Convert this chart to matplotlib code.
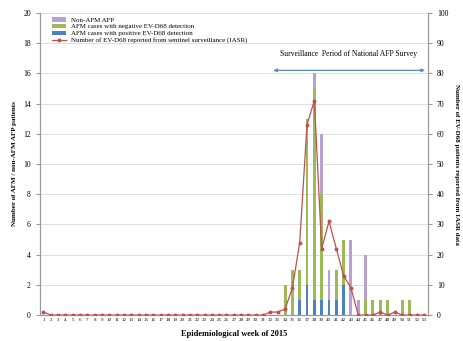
import numpy as np
import matplotlib.pyplot as plt

plt.rcParams['font.family'] = ['Liberation Serif', 'DejaVu Serif']

weeks = list(range(1, 54))

# stacked bars, by week (weeks not listed are zero)
bar_weeks = [34, 35, 36, 37, 38, 39, 40, 41, 42, 43, 44, 45, 46, 47, 48, 50, 51]
positive = [0, 0, 1, 2, 1, 1, 1, 1, 2, 0, 0, 0, 0, 0, 0, 0, 0]
negative = [2, 3, 2, 11, 14, 7, 0, 2, 3, 0, 0, 1, 1, 1, 1, 1, 1]
non_afm = [0, 0, 0, 0, 1, 4, 2, 0, 0, 5, 1, 3, 0, 0, 0, 0, 0]

# EV-D68 reports from sentinel surveillance (right axis)
iasr = [1] + [0] * 30 + [1, 1, 2, 9, 24, 63, 71, 22, 31, 22, 13, 9,
                          0, 0, 0, 1, 0, 1, 0, 0, 0, 0]

c_pos = '#4f81bd'
c_neg = '#9bbb59'
c_non = '#b7a1d3'
c_line = '#c0504d'

fig = plt.figure(figsize=(4.63, 3.41), dpi=100)
ax = fig.add_axes([0.086, 0.076, 0.838, 0.886])

pos = np.array(positive)
neg = np.array(negative)
non = np.array(non_afm)
w = 0.4
ax.bar(bar_weeks, non, w, bottom=pos + neg, color=c_non, label='Non-AFM AFP', zorder=2)
ax.bar(bar_weeks, neg, w, bottom=pos, color=c_neg,
       label='AFM cases with negative EV-D68 detection', zorder=2)
ax.bar(bar_weeks, pos, w, color=c_pos,
       label='AFM cases with positive EV-D68 detection', zorder=2)

ax.set_xlim(0.5, 53.5)
ax.set_ylim(0, 20)
ax.set_yticks(range(0, 21, 2))
ax.set_xticks(weeks)
ax.set_xticklabels([str(x) for x in weeks], fontsize=3.6)
ax.tick_params(axis='y', labelsize=5.5, length=3, color='#999999')
ax.tick_params(axis='x', length=0, pad=2)
ax.grid(axis='y', color='#d9d9d9', linewidth=0.6, zorder=0)
ax.set_axisbelow(True)
for s in ax.spines.values():
    s.set_color('#999999')
ax.spines['top'].set_visible(False)
ax.set_ylabel('Number of AFM / non-AFM AFP patients', fontsize=5, fontweight='bold')
ax.set_xlabel('Epidemiological week of 2015', fontsize=6, fontweight='bold', labelpad=6)

ax2 = ax.twinx()
ax2.set_ylim(0, 100)
ax2.set_yticks(range(0, 101, 10))
ax2.plot(weeks, iasr, color=c_line, marker='o', markersize=1.8, linewidth=0.9,
         label='Number of EV-D68 reported from sentinel surveillance (IASR)', zorder=3)
ax2.tick_params(axis='y', labelsize=5.5, length=3, color='#999999')
for s in ax2.spines.values():
    s.set_color('#999999')
ax2.spines['top'].set_visible(False)
ax2.set_ylabel('Number of EV-D68 patients reported from IASR data', fontsize=5,
               fontweight='bold', rotation=-90, labelpad=8)

ax2.annotate('', xy=(53.5, 81), xytext=(32, 81),
             arrowprops=dict(arrowstyle='<|-|>', color='#5b8ec4', lw=0.9,
                             mutation_scale=5))
ax2.text(42.7, 85, 'Surveillance  Period of National AFP Survey', fontsize=5.5,
         ha='center', va='bottom')

h1, l1 = ax.get_legend_handles_labels()
h2, l2 = ax2.get_legend_handles_labels()
ax2.legend(h1 + h2, l1 + l2, loc='upper left', bbox_to_anchor=(0.02, 1.0),
           frameon=False, fontsize=5, handlelength=2.0, handleheight=0.6,
           labelspacing=0.15, borderaxespad=0.2)

fig.savefig('out.png', dpi=100)
